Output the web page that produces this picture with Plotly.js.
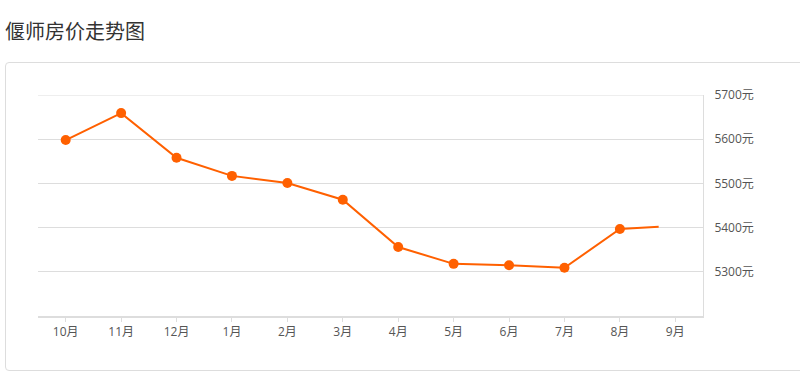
<!DOCTYPE html>
<html>
<head>
<meta charset="utf-8">
<script src="https://cdn.plot.ly/plotly-3.0.1.min.js"></script>
<style>
  html, body { margin: 0; padding: 0; background: #fff; width: 800px; height: 372px; overflow: hidden; }
  #title { position: absolute; left: 5px; top: 17px; font-family: "Noto Sans CJK SC", "Noto Sans", sans-serif; font-size: 20px; color: #333; line-height: 28px; }
  #card { position: absolute; left: 5px; top: 62px; width: 810px; height: 309px; border: 1px solid #ddd; border-radius: 4px; box-sizing: border-box; }
  #chart { position: absolute; left: 0; top: 0; width: 800px; height: 372px; }
</style>
</head>
<body>
<div id="title">偃师房价走势图</div>
<div id="card"></div>
<div id="chart"></div>
<script>
const months = ["10月","11月","12月","1月","2月","3月","4月","5月","6月","7月","8月","9月"];
const prices = [5598, 5659, 5558, 5517, 5501, 5463, 5356, 5318, 5315, 5309, 5397];
const latestPrice = 5402;
const latestPos = 10.7;
const yTicks = [5300, 5400, 5500, 5600, 5700];

const xs = prices.map((_, i) => i).concat([latestPos]);
const ys = prices.concat([latestPrice]);
const sizes = prices.map(() => 10).concat([0]);

const trace = {
  x: xs, y: ys, type: 'scatter', mode: 'lines+markers',
  line: { color: '#ff6000', width: 2 },
  marker: { color: '#ff6000', size: sizes, opacity: 1, line: { width: 0 } },
  hoverinfo: 'skip', cliponaxis: false
};

const layout = {
  width: 800, height: 372,
  margin: { l: 38, r: 97, t: 95, b: 56 },
  paper_bgcolor: 'rgba(0,0,0,0)', plot_bgcolor: 'rgba(0,0,0,0)',
  showlegend: false,
  font: { family: '"Open Sans", "Noto Sans CJK SC", sans-serif', size: 12, color: '#555' },
  xaxis: {
    range: [-0.5, 11.5], tickvals: months.map((_, i) => i), ticktext: months,
    showgrid: false, zeroline: false, showline: true, linecolor: '#ddd', linewidth: 2,
    ticks: 'outside', ticklen: 4, tickcolor: '#ddd', tickwidth: 1,
    fixedrange: true
  },
  yaxis: {
    side: 'right', range: [5200, 5700], tickvals: yTicks, ticktext: yTicks.map(v => v + '元'),
    showgrid: true, gridcolor: '#ddd', gridwidth: 1, zeroline: false,
    showline: true, linecolor: '#ddd', linewidth: 1, ticks: '', ticklabelstandoff: 8,
    fixedrange: true
  },
  shapes: [{ type: 'line', xref: 'paper', yref: 'y', x0: 0, x1: 1, y0: 5700, y1: 5700, line: { color: '#ddd', width: 1 } }]
};

Plotly.newPlot('chart', [trace], layout, { displayModeBar: false, staticPlot: true });
</script>
</body>
</html>
